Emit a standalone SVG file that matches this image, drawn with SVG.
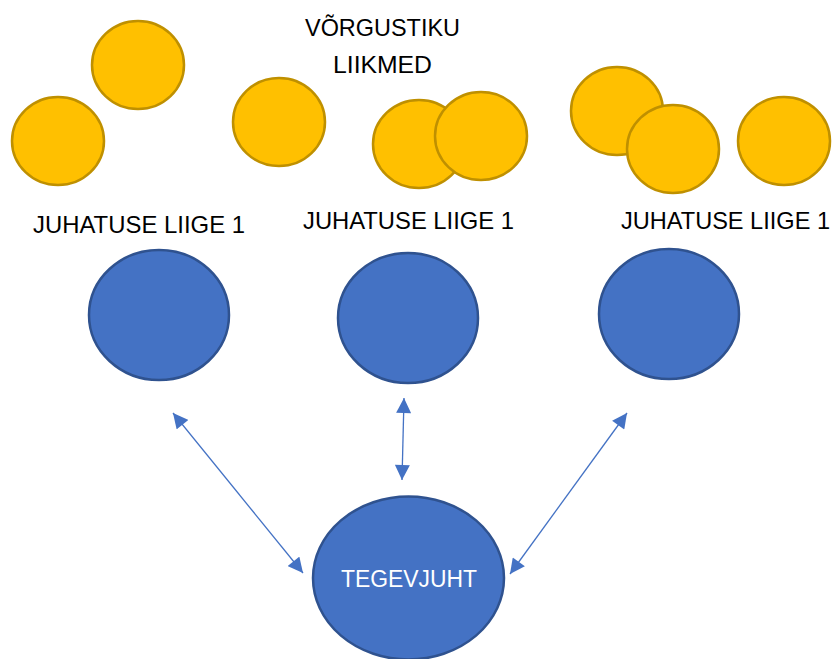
<svg xmlns="http://www.w3.org/2000/svg" width="835" height="659" viewBox="0 0 835 659">
  <style>
    .member { fill: #FFC000; stroke: #BF9000; stroke-width: 2.5; }
    .board { fill: #4472C4; stroke: #2F528F; stroke-width: 2.5; }
    .lbl { font-family: "Liberation Sans", Arial, sans-serif; font-size: 24px; fill: #000000; }
    .inner { font-family: "Liberation Sans", Arial, sans-serif; font-size: 23px; fill: #FFFFFF; }
    .conn { stroke: #4472C4; stroke-width: 1.3; fill: none; marker-start: url(#ah); marker-end: url(#ah); }
  </style>
  <defs>
    <marker id="ah" viewBox="0 0 16 16" refX="16" refY="8" markerWidth="16" markerHeight="15" markerUnits="userSpaceOnUse" orient="auto-start-reverse">
      <path d="M0,0 L16,8 L0,16 Z" fill="#4472C4"/>
    </marker>
  </defs>
  <rect width="835" height="659" fill="#FFFFFF"/>

  <g id="title">
    <text class="lbl" x="382.5" y="36" text-anchor="middle" textLength="155" lengthAdjust="spacingAndGlyphs">VÕRGUSTIKU</text>
    <text class="lbl" x="382.5" y="73" text-anchor="middle" textLength="99" lengthAdjust="spacingAndGlyphs">LIIKMED</text>
  </g>

  <g id="members">
    <ellipse id="m1" class="member" cx="138" cy="65" rx="46" ry="44"/>
    <ellipse id="m2" class="member" cx="58" cy="141" rx="46" ry="44"/>
    <ellipse id="m3" class="member" cx="279" cy="122" rx="46" ry="44"/>
    <ellipse id="m4" class="member" cx="419" cy="144" rx="46" ry="44"/>
    <ellipse id="m5" class="member" cx="481" cy="136" rx="46" ry="44"/>
    <ellipse id="m6" class="member" cx="617" cy="111" rx="46" ry="44"/>
    <ellipse id="m7" class="member" cx="673" cy="149" rx="46" ry="44"/>
    <ellipse id="m8" class="member" cx="784" cy="141" rx="46" ry="44"/>
  </g>

  <g id="board1">
    <text class="lbl" x="33" y="233" textLength="212" lengthAdjust="spacingAndGlyphs">JUHATUSE LIIGE 1</text>
    <ellipse class="board" cx="159" cy="315" rx="70" ry="65"/>
  </g>
  <g id="board2">
    <text class="lbl" x="303" y="229" textLength="211" lengthAdjust="spacingAndGlyphs">JUHATUSE LIIGE 1</text>
    <ellipse class="board" cx="408" cy="318" rx="70" ry="65"/>
  </g>
  <g id="board3">
    <text class="lbl" x="621" y="229" textLength="209" lengthAdjust="spacingAndGlyphs">JUHATUSE LIIGE 1</text>
    <ellipse class="board" cx="669" cy="314" rx="70" ry="65"/>
  </g>

  <g id="connectors">
    <line class="conn" x1="173" y1="413" x2="303" y2="573"/>
    <line class="conn" x1="404" y1="398" x2="402" y2="480"/>
    <line class="conn" x1="627" y1="413" x2="510" y2="574"/>
  </g>

  <g id="ceo">
    <ellipse class="board" cx="408.5" cy="578" rx="95.5" ry="81.5"/>
    <text class="inner" x="409" y="587" text-anchor="middle" textLength="136" lengthAdjust="spacingAndGlyphs">TEGEVJUHT</text>
  </g>
</svg>
